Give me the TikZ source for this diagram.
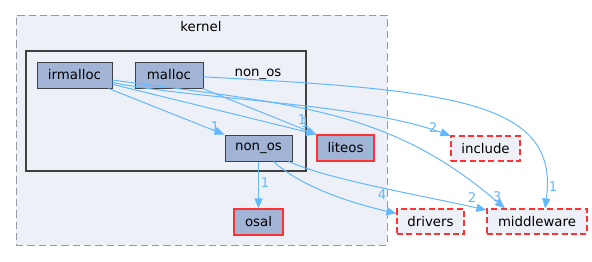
\documentclass[tikz,border=0pt]{standalone}
\usepackage{fontspec}
\setmainfont{DejaVu Sans}
\usetikzlibrary{arrows.meta}
\definecolor{clfill}{HTML}{EDF0F7}
\definecolor{nodefill}{HTML}{A2B4D6}
\definecolor{edgec}{HTML}{63B8FF}
\definecolor{bord}{HTML}{404040}
\definecolor{dashgray}{HTML}{999999}
\definecolor{redb}{HTML}{FF3030}
\begin{document}
\begin{tikzpicture}[x=0.75pt,y=-0.75pt,
  txt/.style={font=\fontsize{10}{12}\selectfont},
  dirbox/.style={txt,draw=bord,fill=nodefill,line width=0.75pt,minimum height=19.5pt,inner sep=0pt},
  extbox/.style={txt,draw=redb,fill=nodefill,line width=1pt,minimum height=19.5pt,inner sep=0pt},
  dashbox/.style={txt,draw=redb,fill=clfill,line width=0.9pt,dash pattern=on 4.5pt off 2.5pt,minimum height=18.75pt,inner sep=0pt},
  edge/.style={draw=edgec,line width=0.75pt,-{Triangle[length=7.5pt,width=6pt]}},
  elabel/.style={txt,text=edgec,inner sep=0pt}]
\useasboundingbox (0,0) rectangle (592,261);
% clusters
\node[draw=dashgray,fill=clfill,line width=0.75pt,dash pattern=on 5.5pt off 3pt,minimum width=278.25pt,minimum height=172.5pt,inner sep=0pt] (kernel) at (201.5,130) {};
\node[txt] (kernellbl) at (201,27) {kernel};
\node[draw=bord,line width=1.5pt,minimum width=210pt,minimum height=90pt,inner sep=0pt] (nonoscl) at (166,111) {};
\node[txt] (nonoslbl) at (258,74) {non\_os};
% nodes
\node[dirbox,minimum width=56.25pt] (irmalloc) at (74.5,75) {irmalloc};
\node[dirbox,minimum width=51pt] (malloc) at (169,75) {malloc};
\node[dirbox,minimum width=50.25pt] (nonos) at (258.5,148) {non\_os};
\node[extbox,minimum width=42.75pt] (liteos) at (345.5,148) {liteos};
\node[extbox,minimum width=36.75pt] (osal) at (258.5,222) {osal};
\node[dashbox,minimum width=51.75pt] (include) at (485.5,148.5) {include};
\node[dashbox,minimum width=50.25pt] (drivers) at (430.5,221.5) {drivers};
\node[dashbox,minimum width=75pt] (middleware) at (537,221.5) {middleware};
% edges
\draw[edge] (irmalloc) -- (nonos);
\node[elabel] (l1) at (215,127) {1};
\draw[edge] (irmalloc) -- (liteos.north west);
\draw[edge] (malloc) -- (liteos.north west);
\node[elabel] (l2) at (302,120) {1};
\node[elabel] (l3) at (305,123) {1};
\draw[edge] (irmalloc) .. controls (200,100) and (360,103) .. (include);
\node[elabel] (l4) at (433,128) {2};
\draw[edge] (irmalloc) .. controls (300,105) and (390,110) .. ([xshift=-24pt]middleware.north);
\node[elabel] (l5) at (497,197) {3};
\draw[edge] (malloc) .. controls (450,90) and (560,100) .. ([xshift=6pt]middleware.north);
\node[elabel] (l6) at (553,187) {1};
\draw[edge] (nonos) -- (osal);
\node[elabel] (l7) at (265,183) {1};
\draw[edge] (nonos) .. controls (305,190) and (360,205) .. (drivers);
\node[elabel] (l8) at (382,195) {4};
\draw[edge] (nonos) .. controls (330,180) and (420,195) .. (middleware);
\node[elabel] (l9) at (472,198) {2};
\end{tikzpicture}
\end{document}
